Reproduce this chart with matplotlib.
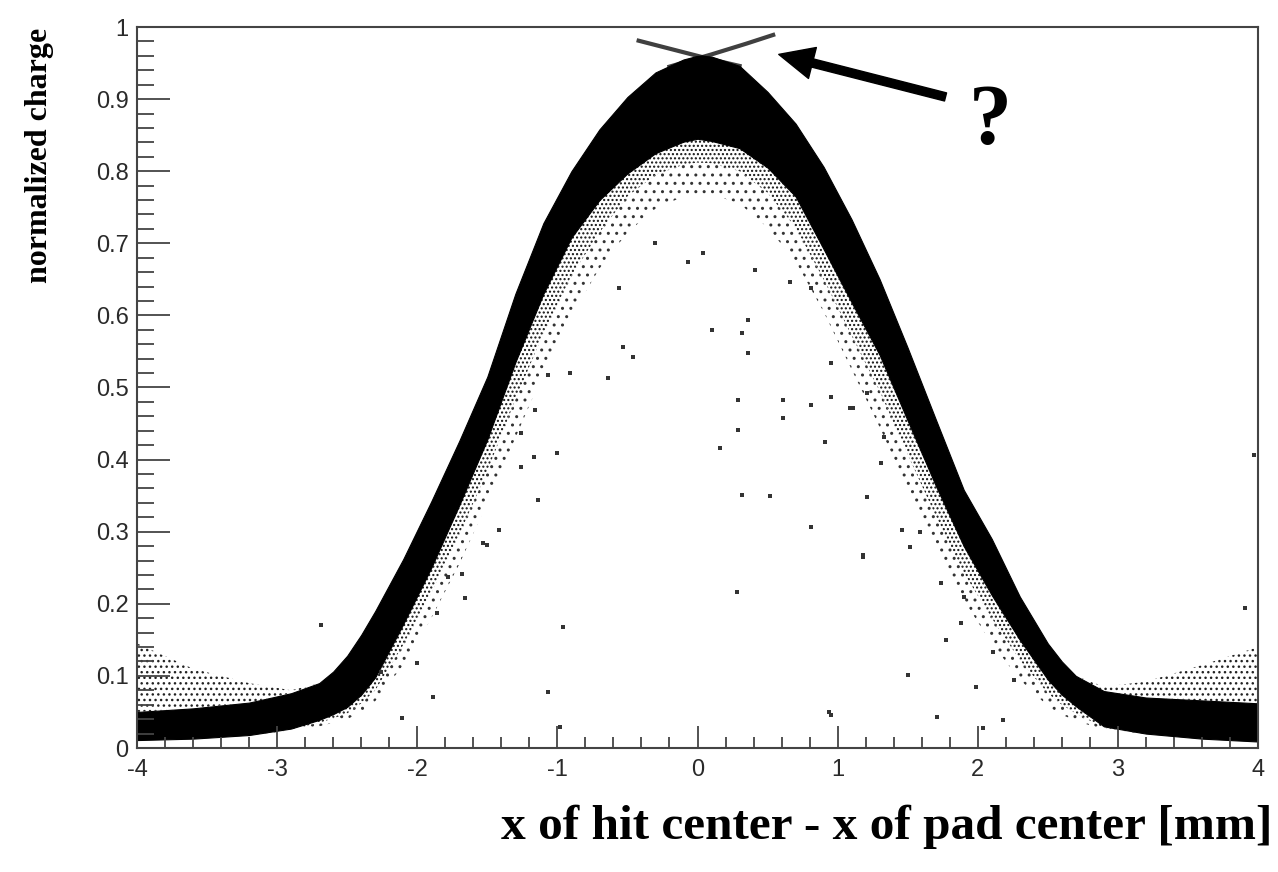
import numpy as np
import matplotlib.pyplot as plt
from matplotlib.ticker import MultipleLocator, FormatStrFormatter

plt.rcParams['axes.unicode_minus'] = False
plt.rcParams['hatch.linewidth'] = 1.0

# x positions (mm) where the band edges were sampled
x_grid = [-4.0, -3.6, -3.2, -2.9, -2.7, -2.6, -2.5, -2.4, -2.3, -2.1, -1.9, -1.7, -1.5, -1.3,
          -1.1, -0.9, -0.7, -0.5, -0.3, -0.1, 0.0, 0.1, 0.3, 0.5, 0.7, 0.9, 1.1,
          1.3, 1.5, 1.7, 1.9, 2.1, 2.3, 2.5, 2.6, 2.7, 2.9, 3.2, 3.6, 4.0]
# outer edge of the dense band
band_top = [0.050, 0.055, 0.063, 0.076, 0.090, 0.106, 0.128, 0.157, 0.190, 0.262, 0.342, 0.426,
            0.515, 0.630, 0.728, 0.800, 0.858, 0.903, 0.937, 0.955, 0.960, 0.959, 0.946, 0.910,
            0.866, 0.806, 0.733, 0.650, 0.555, 0.456, 0.358, 0.290, 0.210, 0.145, 0.120, 0.100,
            0.079, 0.070, 0.066, 0.062]
# inner edge of the dense band
band_bottom = [0.011, 0.013, 0.018, 0.027, 0.039, 0.047, 0.057, 0.074, 0.098, 0.172, 0.250, 0.337,
               0.428, 0.535, 0.630, 0.708, 0.760, 0.797, 0.825, 0.841, 0.845, 0.842, 0.832, 0.805,
               0.765, 0.692, 0.618, 0.545, 0.454, 0.364, 0.280, 0.212, 0.150, 0.095, 0.074, 0.058,
               0.030, 0.020, 0.013, 0.009]
# low-charge hits just inside the band (dense) and further in (sparse)
halo_mid = [0.011, 0.013, 0.018, 0.026, 0.035, 0.041, 0.048, 0.062, 0.080, 0.143, 0.215, 0.296,
            0.384, 0.483, 0.575, 0.655, 0.715, 0.765, 0.795, 0.809, 0.812, 0.811, 0.800, 0.770,
            0.722, 0.650, 0.572, 0.495, 0.407, 0.322, 0.243, 0.180, 0.122, 0.076, 0.060, 0.048,
            0.028, 0.020, 0.013, 0.009]
halo_bottom = [0.011, 0.013, 0.018, 0.024, 0.030, 0.035, 0.040, 0.050, 0.065, 0.115, 0.180, 0.255,
               0.340, 0.430, 0.520, 0.600, 0.665, 0.715, 0.748, 0.765, 0.768, 0.768, 0.755, 0.722,
               0.675, 0.605, 0.525, 0.445, 0.360, 0.280, 0.205, 0.145, 0.095, 0.058, 0.046, 0.038,
               0.025, 0.020, 0.013, 0.009]

# spread of hits above the band far from the pad
left_tail_x = [-4.0, -3.6, -3.2, -2.9, -2.7]
left_tail_top = [0.145, 0.110, 0.090, 0.080, 0.090]
right_tail_x = [2.7, 2.9, 3.2, 3.6, 4.0]
right_tail_top = [0.100, 0.085, 0.092, 0.115, 0.140]

# the two thin streaks crossing near the maximum
streak_a_x = [-0.42, -0.2, 0.1, 0.3]
streak_a_y = [0.981, 0.970, 0.955, 0.946]
streak_b_x = [-0.2, 0.1, 0.35, 0.54]
streak_b_y = [0.945, 0.962, 0.977, 0.989]

# isolated hits
stray_x = [0.29, 0.29, 0.16, 0.32, 0.81, 1.18, 0.61, 0.61, 0.36, 0.32, 0.36, -0.46, -0.64,
           -0.53, -0.56, 0.04, -0.07, 0.41, 0.66, 0.81, 1.21, 1.33, 1.21, 0.81, 0.91, 1.09,
           0.95, 0.52, 1.77, -1.07, 0.94, 3.97, 3.91, -2.69, -0.96, -1.17, -1.14, -1.0, -1.26,
           -1.42, -1.5, -1.66, -1.89, -2.11, -0.98, -1.86, -2.0, -2.26, -1.78, -1.68, -1.53,
           -0.91, -1.07, -1.16, -1.26, 0.95, 1.18, 1.11, 0.95, 1.31, 1.46, 1.59, 1.52, 1.74,
           1.9, 1.88, 1.99, 1.71, 1.5, 2.18, 2.04, 2.11, 2.26, 0.28, -0.3, 0.1]
stray_y = [0.483, 0.441, 0.416, 0.351, 0.307, 0.265, 0.483, 0.458, 0.594, 0.576, 0.548, 0.542,
           0.513, 0.556, 0.638, 0.687, 0.674, 0.663, 0.646, 0.638, 0.492, 0.431, 0.348, 0.476,
           0.424, 0.472, 0.534, 0.350, 0.150, 0.078, 0.050, 0.406, 0.194, 0.170, 0.168, 0.404,
           0.344, 0.409, 0.390, 0.302, 0.282, 0.208, 0.071, 0.042, 0.029, 0.187, 0.118, 0.106,
           0.237, 0.242, 0.284, 0.520, 0.517, 0.469, 0.437, 0.046, 0.268, 0.472, 0.487, 0.395,
           0.302, 0.300, 0.279, 0.229, 0.209, 0.173, 0.085, 0.043, 0.101, 0.039, 0.028, 0.133,
           0.094, 0.216, 0.700, 0.580]

fig = plt.figure(figsize=(12.78, 8.72), dpi=100)
ax = fig.add_axes([137 / 1278, 124 / 872, 1121 / 1278, 721 / 872])

# speckled low-charge region and tails
ax.fill_between(x_grid, halo_mid, band_bottom, facecolor='none', edgecolor='#111111',
                hatch='....', linewidth=0)
ax.fill_between(x_grid, halo_bottom, halo_mid, facecolor='none', edgecolor='#333333',
                hatch='..', linewidth=0)
ax.fill_between(left_tail_x, np.interp(left_tail_x, x_grid, band_top), left_tail_top,
                facecolor='none', edgecolor='#222222', hatch='...', linewidth=0)
ax.fill_between(right_tail_x, np.interp(right_tail_x, x_grid, band_top), right_tail_top,
                facecolor='none', edgecolor='#222222', hatch='...', linewidth=0)
# dense band
ax.fill_between(x_grid, band_bottom, band_top, color='black', linewidth=0.8)
ax.plot(streak_a_x, streak_a_y, color='black', lw=3, alpha=0.75)
ax.plot(streak_b_x, streak_b_y, color='black', lw=3, alpha=0.75)
ax.plot(stray_x, stray_y, ls='none', marker='s', ms=2.4, color='#333333', mew=0)

ax.set_xlim(-4, 4)
ax.set_ylim(0, 1)

ax.xaxis.set_major_locator(MultipleLocator(1))
ax.xaxis.set_minor_locator(MultipleLocator(0.2))
ax.yaxis.set_major_locator(MultipleLocator(0.1))
ax.yaxis.set_minor_locator(MultipleLocator(0.02))
ax.xaxis.set_major_formatter(FormatStrFormatter('%g'))
ax.yaxis.set_major_formatter(FormatStrFormatter('%g'))
ax.tick_params(axis='both', which='both', direction='in', top=False, right=False,
               color='#444444', width=1.3, labelcolor='#2a2a2a')
ax.tick_params(axis='x', which='major', length=15.5, pad=8)
ax.tick_params(axis='x', which='minor', length=8)
ax.tick_params(axis='y', which='major', length=24, pad=6)
ax.tick_params(axis='y', which='minor', length=12)
for lab in ax.get_xticklabels() + ax.get_yticklabels():
    lab.set_fontfamily('Liberation Sans')
    lab.set_fontsize(17)
for sp in ax.spines.values():
    sp.set_color('#444444')
    sp.set_linewidth(1.5)

fig.text(1272 / 1278, 1 - 827 / 872, 'x of hit center - x of pad center [mm]',
         ha='right', va='center', fontsize=35.5, fontweight='bold', family='Liberation Serif')
fig.text(40 / 1278, 1 - 28 / 872, 'normalized charge', rotation=90, ha='center', va='top',
         fontsize=23, fontweight='bold', family='Liberation Serif')

ax.annotate('', xy=(0.58, 0.962), xytext=(1.77, 0.903),
            arrowprops=dict(facecolor='black', edgecolor='black', width=6,
                            headwidth=23, headlength=25, shrink=0))
ax.text(2.09, 0.866, '?', ha='center', va='center', fontsize=62, fontweight='bold',
        family='Liberation Serif')

fig.savefig('out.png', dpi=100)
